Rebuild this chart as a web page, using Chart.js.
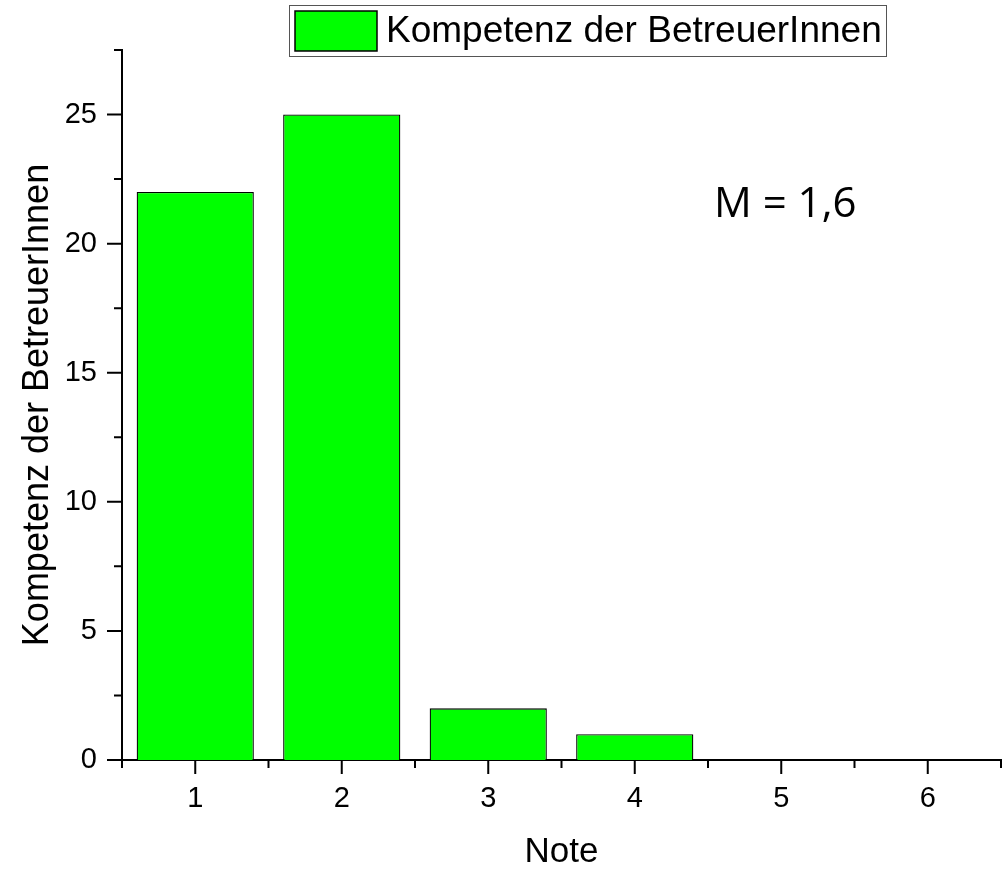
<!DOCTYPE html>
<html>
<head>
<meta charset="utf-8">
<script src="https://cdn.jsdelivr.net/npm/chart.js@4/dist/chart.umd.min.js"></script>
<style>
  html, body { margin: 0; padding: 0; background: #fff; }
  #wrap { width: 1005px; height: 870px; }
</style>
</head>
<body>
<div id="wrap"><canvas id="chart"></canvas></div>
<script>
// values
const notes = ['1', '2', '3', '4', '5', '6'];
const counts = [22, 25, 2, 1, 0, 0];
const seriesLabel = 'Kompetenz der BetreuerInnen';
const yTicks = [0, 5, 10, 15, 20, 25];
const meanLabel = 'M = 1,6';

const FONT = '"Liberation Sans", Arial, sans-serif';

// draws outward major/minor ticks on both axes
const tickPlugin = {
    id: 'originTicks',
    afterDraw(chart) {
        const ctx = chart.ctx;
        const x = chart.scales.x;
        const y = chart.scales.y;
        ctx.save();
        ctx.strokeStyle = '#000';
        ctx.lineWidth = 2;
        ctx.beginPath();
        // x: major at categories, minor between them
        for (let i = 0; i < notes.length; i++) {
            const px = x.getPixelForValue(i);
            ctx.moveTo(px, x.top);
            ctx.lineTo(px, x.top + 14);
        }
        for (let i = 0; i <= notes.length; i++) {
            const px = x.getPixelForValue(i - 0.5);
            ctx.moveTo(px, x.top);
            ctx.lineTo(px, x.top + 8);
        }
        // y: major every 5, minor every 2.5
        yTicks.forEach(v => {
            const py = y.getPixelForValue(v);
            ctx.moveTo(y.right, py);
            ctx.lineTo(y.right - 15, py);
            const pm = y.getPixelForValue(v + 2.5);
            ctx.moveTo(y.right, pm);
            ctx.lineTo(y.right - 8, pm);
        });
        ctx.stroke();
        ctx.restore();
    }
};

// legend box and mean annotation
const legendPlugin = {
    id: 'boxLegend',
    afterDraw(chart) {
        const ctx = chart.ctx;
        const ds = chart.data.datasets[0];
        ctx.save();
        ctx.fillStyle = '#fff';
        ctx.fillRect(289, 5, 597, 51);
        ctx.strokeStyle = '#555';
        ctx.lineWidth = 1;
        ctx.strokeRect(289.5, 5.5, 597, 51);
        ctx.fillStyle = ds.backgroundColor;
        ctx.fillRect(295, 11, 82, 40);
        ctx.strokeStyle = '#000';
        ctx.lineWidth = 1.5;
        ctx.strokeRect(295, 11, 82, 40);
        ctx.fillStyle = '#000';
        ctx.font = '37px ' + FONT;
        ctx.textBaseline = 'middle';
        ctx.textAlign = 'left';
        ctx.fillText(ds.label, 386, 32);

        ctx.font = '42px "Open Sans", sans-serif';
        ctx.textBaseline = 'alphabetic';
        ctx.fillText(meanLabel, 714, 217);
        ctx.restore();
    }
};

new Chart(document.getElementById('chart'), {
    type: 'bar',
    data: {
        labels: notes,
        datasets: [{
            label: seriesLabel,
            data: counts,
            backgroundColor: '#00ff00',
            borderColor: '#000',
            borderWidth: 1.3,
            barPercentage: 0.8,
            categoryPercentage: 1.0
        }]
    },
    options: {
        responsive: true,
        maintainAspectRatio: false,
        animation: false,
        layout: { padding: { top: 50, right: 4, left: 0, bottom: 0 } },
        plugins: {
            legend: { display: false },
            tooltip: { enabled: false }
        },
        scales: {
            x: {
                type: 'category',
                offset: true,
                grid: { display: false, drawTicks: false },
                border: { display: true, color: '#000', width: 2 },
                ticks: { color: '#000', font: { family: FONT, size: 29 }, padding: 22 },
                title: { display: true, text: 'Note', color: '#000',
                         font: { family: FONT, size: 35, lineHeight: 1.0 }, padding: { top: 0, bottom: 0 } },
                afterFit(scale) { scale.height = 110; }
            },
            y: {
                min: 0,
                max: 27.5,
                grid: { display: false, drawTicks: false },
                border: { display: true, color: '#000', width: 2 },
                ticks: { stepSize: 5, includeBounds: false, color: '#000',
                         font: { family: FONT, size: 29 }, padding: 25 },
                title: { display: true, text: seriesLabel, color: '#000',
                         font: { family: FONT, size: 36 }, padding: { top: 16, bottom: 0 } },
                afterFit(scale) { scale.width = 122; }
            }
        }
    },
    plugins: [tickPlugin, legendPlugin]
});
</script>
</body>
</html>
